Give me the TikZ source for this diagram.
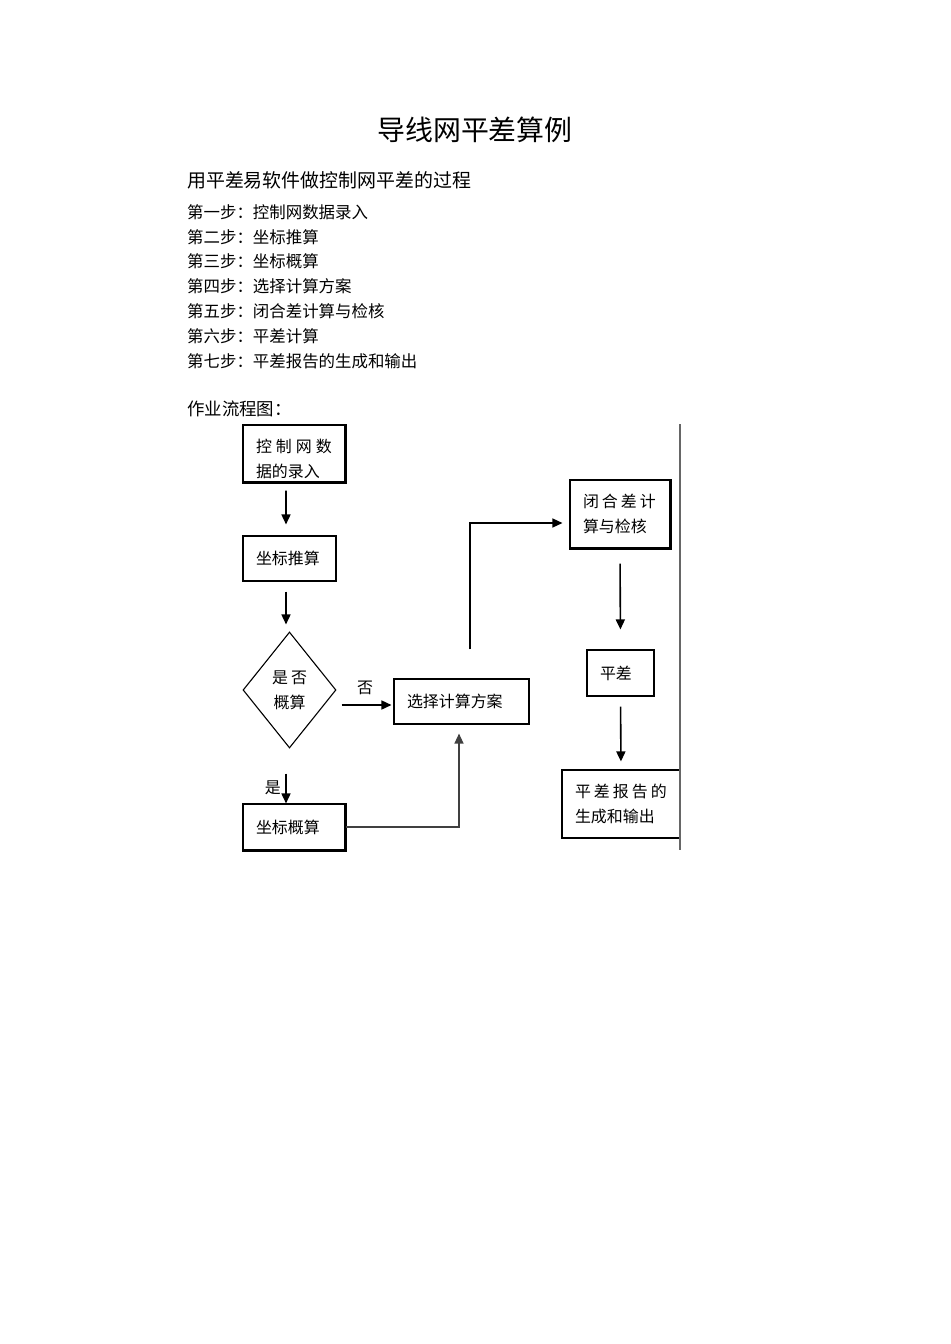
\documentclass[tikz,border=0pt]{standalone}
\usepackage{fontspec}
\setmainfont{Noto Sans CJK SC}
\usetikzlibrary{positioning,arrows.meta,shapes.geometric}

\begin{document}
\begin{tikzpicture}[x=1bp,y=-1bp,>={Triangle[length=10bp,width=9bp]},
  box/.style={draw,line width=1.1bp,inner xsep=13bp,inner ysep=0pt,align=left,
              font=\fontsize{16}{25}\selectfont},
  dec/.style={draw,diamond,line width=1.1bp,minimum width=93bp,minimum height=116bp,
              inner sep=0pt,align=center,font=\fontsize{16}{25}\selectfont},
  arr/.style={->,line width=1.6bp},
  edgeline/.style={line width=1.9bp},
  lbl/.style={font=\fontsize{16}{20}\selectfont},
  stepline/.style={anchor=west,inner sep=0pt,font=\fontsize{16.5}{20}\selectfont}]
  \useasboundingbox (0,0) rectangle (950,1344);

  % ---------- heading ----------
  \node[font=\fontsize{28}{34}\selectfont] (title) at (475,130) {导线网平差算例};
  \node[anchor=west,inner sep=0pt,font=\fontsize{19}{24}\selectfont] (intro) at (187,180) {用平差易软件做控制网平差的过程};
  \foreach \n/\t [count=\i] in {一/控制网数据录入,二/坐标推算,三/坐标概算,四/选择计算方案,
                                五/闭合差计算与检核,六/平差计算,七/平差报告的生成和输出}
    \node[stepline] (s\i) at (187,{212+(\i-1)*24.8}) {第{\n}步：\t};
  \node[anchor=west,inner sep=0pt,font=\fontsize{17.5}{22}\selectfont] (flow) at (187,409) {作业流程图：};

  % ---------- flow chart ----------
  \node[box,text width=76bp,minimum height=57bp] (input) at (294,453.5)
       {\rule{0pt}{25bp}控\hspace{4bp}制\hspace{4bp}网\hspace{4bp}数\\据的录入};
  \node[box,text width=67bp,minimum height=45bp] (push) at (289.5,558.5) {坐标推算};
  \node[dec] (ask) at (289.5,690) {是\hspace{3bp}否\\概算};
  \node[box,text width=109bp,minimum height=45bp] (plan) at (461.5,701.5) {选择计算方案};
  \node[box,text width=76bp,minimum height=46bp] (rough) at (294,827) {坐标概算};
  \node[box,text width=74bp,minimum height=68bp] (close) at (620,514)
       {闭\hspace{3bp}合\hspace{3bp}差\hspace{3bp}计\\算与检核};
  \node[box,text width=41bp,minimum height=46bp] (adj) at (620.5,673) {平差};
  \node[box,text width=92bp,minimum height=68bp] (report) at (621,804)
       {平\hspace{3bp}差\hspace{3bp}报\hspace{3bp}告\hspace{3bp}的\\生成和输出};
  \draw[edgeline] (input.north east) -- (input.south east) -- (input.south west);
  \draw[edgeline] (rough.north east) -- (rough.south east) -- (rough.south west);
  \draw[edgeline] (close.north east) -- (close.south east) -- (close.south west);

  \draw[arr,shorten <=8bp,shorten >=11bp] ([xshift=-8bp]input.south) -- ([xshift=-3.5bp]push.north);
  \draw[arr,shorten <=10bp,shorten >=7bp] ([xshift=-3.5bp]push.south) -- ([xshift=-3.5bp]ask.north);
  \draw[arr,shorten <=5bp,shorten >=2bp] ([yshift=-3.5bp]ask.east |- plan.west) -- ([yshift=-3.5bp]plan.west)
        node[lbl,midway,above=6bp] (no) {否};
  \draw[arr,shorten <=25bp] ([xshift=-3.5bp]ask.south) -- ([xshift=-3.5bp]ask.south |- rough.north)
        node[lbl,pos=0.72,left=1bp] (yes) {是};
  \draw[->,line width=1.3bp,black!75,shorten >=9bp] (rough.east) -| ([xshift=-2.5bp]plan.south);
  \draw[->,line width=1.4bp,shorten <=29bp,shorten >=7bp] ([xshift=8.5bp]plan.north) |- ([yshift=-9bp]close.west);
  \draw[arr,shorten <=15bp,shorten >=20bp] (close.south) -- (adj.north);
  \draw[arr,shorten <=10bp,shorten >=8bp] (adj.south) -- (report.north);

  % right margin rule
  \draw[line width=1.1bp,black!60] (680,424) -- (680,850);
\end{tikzpicture}
\end{document}
